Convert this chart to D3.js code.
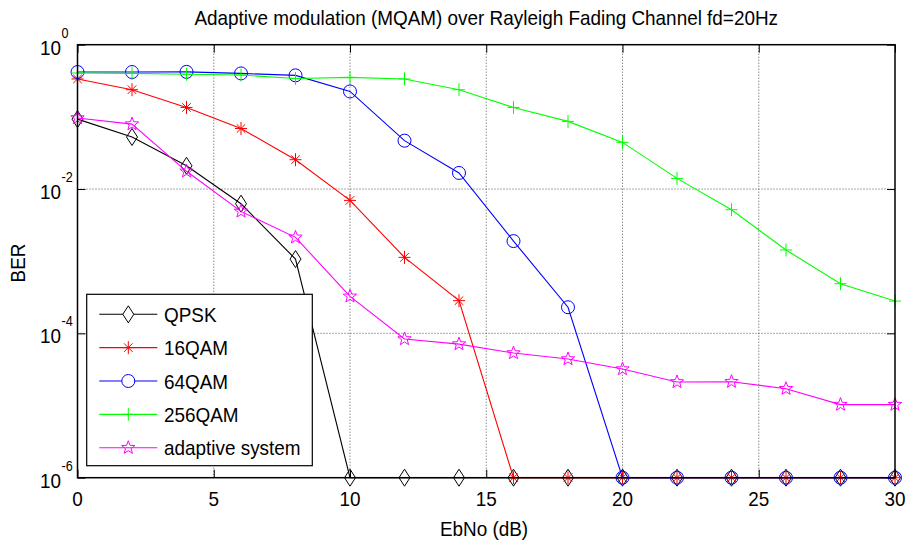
<!DOCTYPE html>
<html>
<head>
<meta charset="utf-8">
<script src="https://cdn.jsdelivr.net/npm/d3@7"></script>
<style>
  html, body { margin: 0; padding: 0; background: #fff; }
  svg { display: block; font-family: Arial, "Liberation Sans", Helvetica, sans-serif; }
</style>
</head>
<body>
<svg id="chart" width="908" height="544"></svg>
<script>
// Eb/No sample points (dB)
const ebno = [0, 2, 4, 6, 8, 10, 12, 14, 16, 18, 20, 22, 24, 26, 28, 30];

// Bit error rate per scheme (1e-6 marks the floor of the simulation)
const qpsk    = [0.093, 0.0526, 0.021, 0.00626, 0.00107, 1e-6, 1e-6, 1e-6, 1e-6, 1e-6, 1e-6, 1e-6, 1e-6, 1e-6, 1e-6, 1e-6];
const qam16   = [0.335, 0.238, 0.135, 0.069, 0.0255, 0.00696, 0.00113, 0.000284, 1e-6, 1e-6, 1e-6, 1e-6, 1e-6, 1e-6, 1e-6, 1e-6];
const qam64   = [0.418, 0.418, 0.42, 0.40, 0.376, 0.225, 0.0468, 0.0167, 0.0019, 0.00023, 1e-6, 1e-6, 1e-6, 1e-6, 1e-6, 1e-6];
const qam256  = [0.405, 0.40, 0.39, 0.38, 0.34, 0.352, 0.335, 0.238, 0.135, 0.0866, 0.0443, 0.01405, 0.00517, 0.00143, 0.000488, 0.00028];
const adaptive = [0.0965, 0.0794, 0.0176, 0.0049, 0.00214, 0.000326, 8.36e-5, 7.1e-5, 5.34e-5, 4.41e-5, 3.2e-5, 2.12e-5, 2.14e-5, 1.71e-5, 1.03e-5, 1.03e-5];

const seriesNames = ["QPSK", "16QAM", "64QAM", "256QAM", "adaptive system"];
const seriesValues = [qpsk, qam16, qam64, qam256, adaptive];
const seriesColors = ["#000000", "#ff0000", "#0000ff", "#00ff00", "#ff00ff"];
const seriesMarkers = ["diamond", "asterisk", "circle", "plus", "pentagram"];

// Axis ticks
const xTicks = [0, 5, 10, 15, 20, 25, 30];
const yTicks = [1, 1e-2, 1e-4, 1e-6];
const yTickExponents = ["0", "-2", "-4", "-6"];

const titleText = "Adaptive modulation (MQAM) over Rayleigh Fading Channel fd=20Hz";
const xLabel = "EbNo (dB)";
const yLabel = "BER";

// Plot frame
const plot = { left: 77.5, right: 895, top: 44.7, bottom: 477.7 };
const FONT = 21;        // main text size
const SUP = 14;         // exponent size
const CONDENSE = 0.9;   // narrow the glyphs a little

const svg = d3.select("#chart");
const x = d3.scaleLinear().domain([0, 30]).range([plot.left, plot.right]);
const y = d3.scaleLog().domain([1e-6, 1]).range([plot.bottom, plot.top]);

// Squeeze a text selection horizontally to a narrow face
function condense(sel) {
  sel.each(function () {
    const len = this.getComputedTextLength();
    if (len > 0) {
      d3.select(this)
        .attr("textLength", (len * CONDENSE).toFixed(2))
        .attr("lengthAdjust", "spacingAndGlyphs");
    }
  });
}

// Marker shapes (MATLAB style), centred on the origin
function markerPath(type) {
  const p = d3.path();
  switch (type) {
    case "diamond":
      p.moveTo(0, -8.5); p.lineTo(5.5, 0); p.lineTo(0, 8.5); p.lineTo(-5.5, 0); p.closePath();
      break;
    case "circle":
      p.moveTo(6.5, 0); p.arc(0, 0, 6.5, 0, 2 * Math.PI);
      break;
    case "plus":
      p.moveTo(-6, 0); p.lineTo(6, 0); p.moveTo(0, -6.5); p.lineTo(0, 6.5);
      break;
    case "asterisk":
      p.moveTo(0, -6.5); p.lineTo(0, 6.5);
      p.moveTo(-6, 0); p.lineTo(6, 0);
      p.moveTo(-4.3, -4.3); p.lineTo(4.3, 4.3);
      p.moveTo(-4.3, 4.3); p.lineTo(4.3, -4.3);
      break;
    case "pentagram": {
      const R = 7, r = 2.9;
      for (let i = 0; i < 10; i++) {
        const rad = i % 2 === 0 ? R : r;
        const a = -Math.PI / 2 + i * Math.PI / 5;
        const px = rad * Math.cos(a), py = rad * Math.sin(a);
        if (i === 0) p.moveTo(px, py); else p.lineTo(px, py);
      }
      p.closePath();
      break;
    }
  }
  return p.toString();
}

// Grid (dotted)
const grid = svg.append("g").attr("class", "grid")
  .attr("stroke", "#555").attr("stroke-width", 1).attr("stroke-dasharray", "1,2");
grid.selectAll("line.gx").data(xTicks.slice(1, -1)).join("line")
  .attr("x1", d => x(d)).attr("x2", d => x(d))
  .attr("y1", plot.top).attr("y2", plot.bottom);
grid.selectAll("line.gy").data(yTicks.slice(1, -1)).join("line")
  .attr("x1", plot.left).attr("x2", plot.right)
  .attr("y1", d => y(d)).attr("y2", d => y(d));

// Axes with inward ticks on all four sides
const tickLen = 8;
const axisBottom = d3.axisBottom(x).tickValues(xTicks).tickSize(-tickLen).tickFormat("");
const axisTop = d3.axisTop(x).tickValues(xTicks).tickSize(-tickLen).tickFormat("");
const axisLeft = d3.axisLeft(y).tickValues(yTicks).tickSize(-tickLen).tickFormat("");
const axisRight = d3.axisRight(y).tickValues(yTicks).tickSize(-tickLen).tickFormat("");

function styleAxis(g) {
  g.select(".domain").remove();
  g.selectAll(".tick line").attr("stroke", "#000").attr("stroke-width", 1);
}
svg.append("g").attr("transform", `translate(0,${plot.bottom})`).call(axisBottom).call(styleAxis);
svg.append("g").attr("transform", `translate(0,${plot.top})`).call(axisTop).call(styleAxis);
svg.append("g").attr("transform", `translate(${plot.left},0)`).call(axisLeft).call(styleAxis);
svg.append("g").attr("transform", `translate(${plot.right},0)`).call(axisRight).call(styleAxis);

// Series lines and markers
const line = d3.line().x(d => x(d[0])).y(d => y(d[1]));
seriesValues.forEach((vals, i) => {
  const pts = ebno.map((e, j) => [e, vals[j]]);
  const g = svg.append("g").attr("class", "series");
  g.append("path").datum(pts)
    .attr("d", line)
    .attr("fill", "none")
    .attr("stroke", seriesColors[i])
    .attr("stroke-width", 1.1);
  g.selectAll("path.m").data(pts).join("path")
    .attr("class", "m")
    .attr("transform", d => `translate(${x(d[0])},${y(d[1])})`)
    .attr("d", markerPath(seriesMarkers[i]))
    .attr("fill", "none")
    .attr("stroke", seriesColors[i])
    .attr("stroke-width", 1);
});

// Plot box
svg.append("rect")
  .attr("x", plot.left).attr("y", plot.top)
  .attr("width", plot.right - plot.left).attr("height", plot.bottom - plot.top)
  .attr("fill", "none").attr("stroke", "#000").attr("stroke-width", 1.5);

// X tick labels
svg.append("g").selectAll("text").data(xTicks).join("text")
  .attr("x", d => x(d)).attr("y", plot.bottom + 28.5)
  .attr("text-anchor", "middle")
  .attr("font-size", FONT)
  .text(d => d)
  .call(condense);

// Y tick labels: 10 with superscript exponent
const yl = svg.append("g").selectAll("g").data(yTicks).join("g");
yl.append("text")
  .attr("x", 61).attr("y", d => y(d) + 10)
  .attr("text-anchor", "end")
  .attr("font-size", FONT)
  .text("10")
  .call(condense);
yl.append("text")
  .attr("x", 61.5).attr("y", d => y(d) - 7)
  .attr("text-anchor", "start")
  .attr("font-size", SUP)
  .text((d, i) => yTickExponents[i])
  .call(condense);

// Title and axis labels
svg.append("text")
  .attr("x", (plot.left + plot.right) / 2).attr("y", 24.5)
  .attr("text-anchor", "middle").attr("font-size", FONT)
  .text(titleText)
  .call(condense);
svg.append("text")
  .attr("x", 484).attr("y", 535.5)
  .attr("text-anchor", "middle").attr("font-size", FONT)
  .text(xLabel)
  .call(condense);
svg.append("text")
  .attr("transform", `translate(25,263) rotate(-90)`)
  .attr("text-anchor", "middle").attr("font-size", FONT)
  .text(yLabel)
  .call(condense);

// Legend
const legend = { left: 86.7, top: 294.3, right: 312.3, bottom: 465.7, first: 314.3, step: 33.35 };
const lg = svg.append("g").attr("class", "legend");
lg.append("rect")
  .attr("x", legend.left).attr("y", legend.top)
  .attr("width", legend.right - legend.left).attr("height", legend.bottom - legend.top)
  .attr("fill", "#fff").attr("stroke", "#000").attr("stroke-width", 1.2);
seriesNames.forEach((name, i) => {
  const cy = legend.first + i * legend.step;
  lg.append("line")
    .attr("x1", 99.3).attr("x2", 157.3).attr("y1", cy).attr("y2", cy)
    .attr("stroke", seriesColors[i]).attr("stroke-width", 1.1);
  lg.append("path")
    .attr("transform", `translate(128.3,${cy})`)
    .attr("d", markerPath(seriesMarkers[i]))
    .attr("fill", i === 0 || i === 2 ? "#fff" : "none")
    .attr("stroke", seriesColors[i]).attr("stroke-width", 1);
  lg.append("text")
    .attr("x", 164).attr("y", cy + 7.5)
    .attr("font-size", FONT)
    .text(name)
    .call(condense);
});
</script>
</body>
</html>
